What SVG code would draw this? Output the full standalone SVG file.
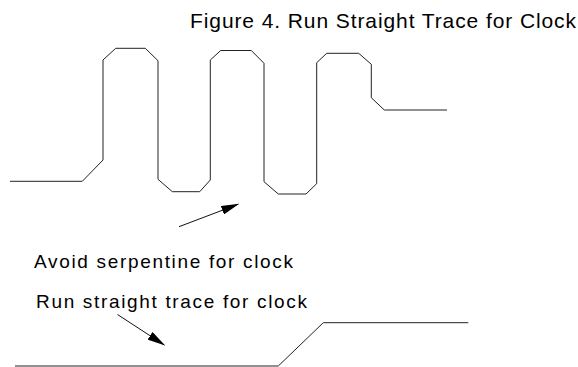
<svg xmlns="http://www.w3.org/2000/svg" width="578" height="367" viewBox="0 0 578 367">
  <style>
    .trace { fill: none; stroke: #222; stroke-width: 1; stroke-linejoin: miter; }
    .lead { fill: none; stroke: #111; stroke-width: 1; }
    .title { font-family: "Liberation Sans", Arial, sans-serif; font-size: 21px; fill: #000; }
    .label { font-family: "Liberation Sans", Arial, sans-serif; font-size: 19px; fill: #000; }
  </style>
  <defs>
    <marker id="head" viewBox="0 0 18 9" refX="17" refY="4.5" markerWidth="18" markerHeight="9" markerUnits="userSpaceOnUse" orient="auto">
      <path d="M0,0 L18,4.5 L0,9 Z" fill="#000"/>
    </marker>
  </defs>
  <rect width="578" height="367" fill="#fff"/>

  <text id="title" class="title" x="190" y="28" textLength="386" lengthAdjust="spacing">Figure 4. Run Straight Trace for Clock</text>

  <g id="serpentine">
    <polyline class="trace" points="10,181.3 82.3,181.3 103,160 103,60 115.7,48.3 145.3,48.3 158,60.7 158,179.3 172.3,191.7 199.7,191.7 210.3,180 210.3,60 220.7,50.5 251.3,50.5 264,63.3 264,181.7 278.3,194 306,194 316.7,183.7 316.7,62.7 326.7,53.3 358.7,53.3 371.3,64.3 371.3,97.7 384.3,110 447,110"/>
  </g>

  <g id="straight">
    <polyline class="trace" points="15,366 278.3,366 323.3,322.7 468.3,322.7"/>
  </g>

  <g id="label-avoid">
    <text class="label" x="34" y="268" textLength="259" lengthAdjust="spacing">Avoid serpentine for clock</text>
  </g>
  <g id="label-run">
    <text class="label" x="36" y="307.5" textLength="271" lengthAdjust="spacing">Run straight trace for clock</text>
  </g>

  <g id="connectors">
    <line class="lead" x1="179" y1="226.7" x2="238.3" y2="204.2" marker-end="url(#head)"/>
    <line class="lead" x1="117.5" y1="314.5" x2="164.3" y2="345" marker-end="url(#head)"/>
  </g>
</svg>
